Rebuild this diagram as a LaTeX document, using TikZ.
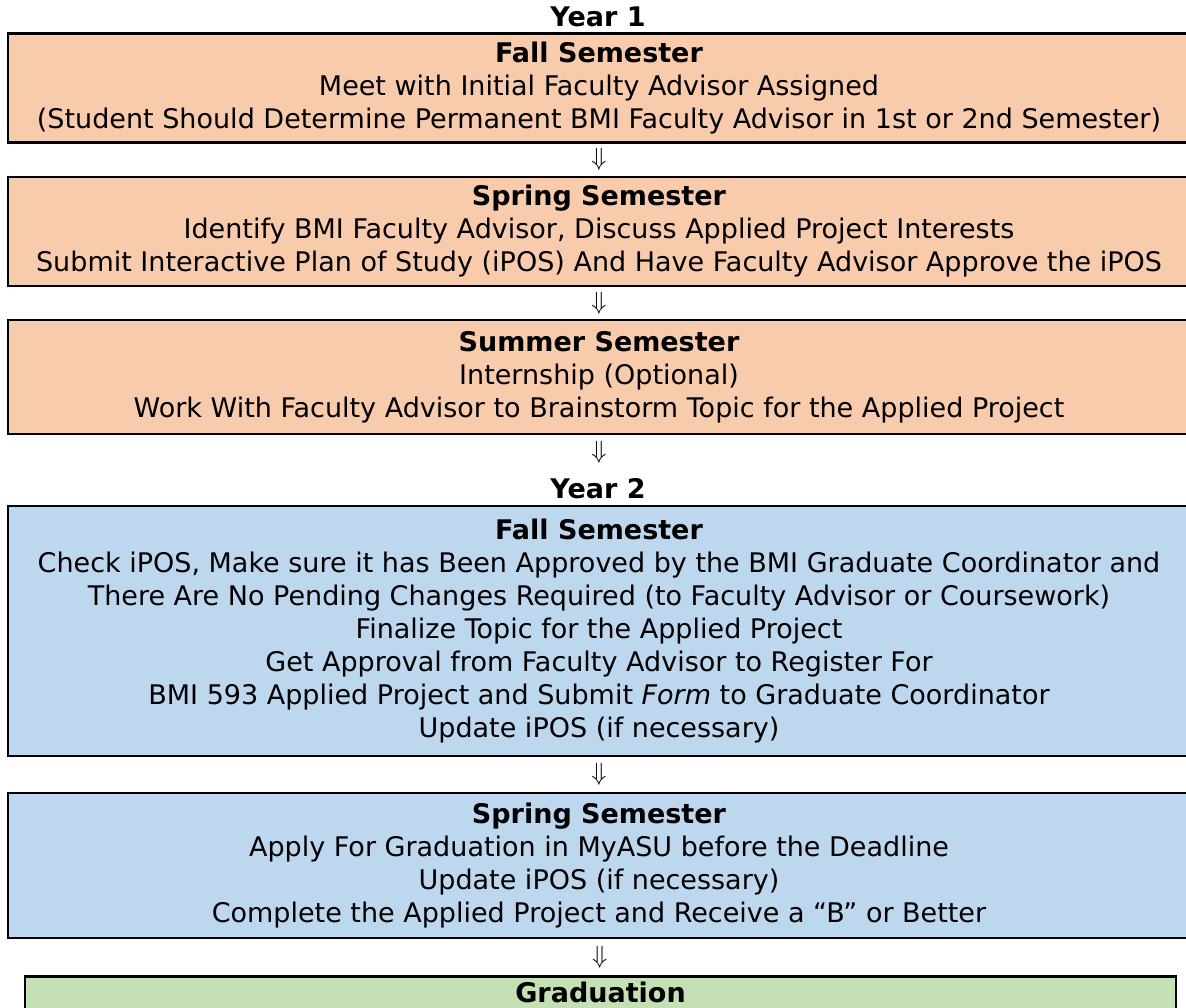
\documentclass[tikz,border=0pt]{standalone}
\usepackage{fontspec}
\setmainfont{DejaVu Sans}
\usetikzlibrary{calc}
\definecolor{orangebox}{RGB}{248,203,173}
\definecolor{bluebox}{RGB}{189,215,238}
\definecolor{greenbox}{RGB}{197,224,180}
\begin{document}
\begin{tikzpicture}[x=1pt,y=-1pt,
  box/.style={draw=black, line width=2.8pt, rectangle, inner sep=0pt,
    minimum width=1182pt, align=center, font=\fontsize{27}{33}\selectfont},
  yearlabel/.style={font=\fontsize{27}{27}\selectfont\bfseries, inner sep=0pt},
  flowarrow/.style={font=\fontsize{27}{27}\selectfont, inner sep=0pt}]
\useasboundingbox (0,0) rectangle (1186,1008);
\clip (0,0) rectangle (1186,1008);

\node[yearlabel] (y1) at (598,17) {Year 1};

\node[box, fill=orangebox, minimum height=109pt] (b1) at (599,88)
  {\textbf{Fall Semester}\\
   Meet with Initial Faculty Advisor Assigned\\
   (Student Should Determine Permanent BMI Faculty Advisor in 1st or 2nd Semester)};

\node[box, fill=orangebox, minimum height=109pt] (b2) at (599,231.5)
  {\textbf{Spring Semester}\\
   Identify BMI Faculty Advisor, Discuss Applied Project Interests\\
   Submit Interactive Plan of Study (iPOS) And Have Faculty Advisor Approve the iPOS};

\node[box, fill=orangebox, minimum height=114pt] (b3) at (599,377)
  {\textbf{Summer Semester}\\
   Internship (Optional)\\
   Work With Faculty Advisor to Brainstorm Topic for the Applied Project};

\node[flowarrow] (a3) at (599,452) {$\Downarrow$};
\node[yearlabel] (y2) at (598,489) {Year 2};

\node[box, fill=bluebox, minimum height=250pt] (b4) at (599,631)
  {\textbf{Fall Semester}\\
   Check iPOS, Make sure it has Been Approved by the BMI Graduate Coordinator and\\
   There Are No Pending Changes Required (to Faculty Advisor or Coursework)\\
   Finalize Topic for the Applied Project\\
   Get Approval from Faculty Advisor to Register For\\
   BMI 593 Applied Project and Submit \textit{Form} to Graduate Coordinator\\
   Update iPOS (if necessary)};

\node[box, fill=bluebox, minimum height=145pt] (b5) at (599,865.5)
  {\textbf{Spring Semester}\\
   Apply For Graduation in MyASU before the Deadline\\
   Update iPOS (if necessary)\\
   Complete the Applied Project and Receive a “B” or Better};

\node[draw=black, line width=2.8pt, fill=greenbox, anchor=north, inner sep=0pt,
  minimum width=1151pt, text height=26pt, text depth=40pt,
  font=\fontsize{27}{27}\selectfont\bfseries] (b6) at (600.5,975) {Graduation};

\node[flowarrow] (a1) at ($(b1.south)!0.5!(b2.north)$) {$\Downarrow$};
\node[flowarrow] (a2) at ($(b2.south)!0.5!(b3.north)$) {$\Downarrow$};
\node[flowarrow] (a4) at ($(b4.south)!0.5!(b5.north)$) {$\Downarrow$};
\node[flowarrow] (a5) at ($(b5.south)!0.5!(b6.north)$) {$\Downarrow$};
\end{tikzpicture}
\end{document}
